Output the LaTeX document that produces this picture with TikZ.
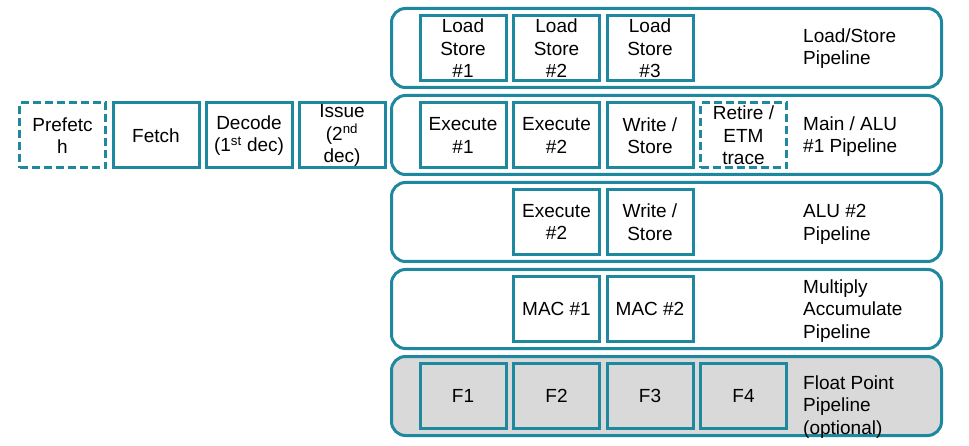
\documentclass[tikz,border=0pt]{standalone}
\usepackage{fontspec}
\setmainfont{Liberation Sans}
\definecolor{armteal}{RGB}{30,136,158}
\definecolor{fpgray}{RGB}{217,217,217}
\tikzset{
  stagebox/.style={draw=armteal, line width=3pt, minimum width=86pt, minimum height=65pt, inner sep=0pt, align=center},
  dashbox/.style={stagebox, dash pattern=on 8pt off 4pt},
  pipebox/.style={draw=armteal, line width=3pt, rounded corners=14pt, minimum width=550pt, minimum height=79pt, inner sep=0pt},
  pipelabel/.style={anchor=west, align=left, inner sep=0pt},
}
\begin{document}
\begin{tikzpicture}[x=1pt,y=-1pt,font=\fontsize{19}{22.5}\selectfont]
      \useasboundingbox (0,0) rectangle (969,446);
      % pipelines
      \node[pipebox] (lspipe) at (666.5,48) {};
      \node[pipebox] (mainpipe) at (666.5,135) {};
      \node[pipebox] (alupipe) at (666.5,222) {};
      \node[pipebox] (macpipe) at (666.5,309) {};
      \node[pipebox,fill=fpgray] (fppipe) at (666.5,396) {};
      % front end
      \node[dashbox] (prefetch) at (62.5,135.5) {Prefetc\\h};
      \node[stagebox] (fetch) at (156,135.5) {Fetch};
      \node[stagebox] (decode) at (249,135.5) {Decode\\(1\textsuperscript{st} dec)};
      \node[stagebox] (issue) at (342,135.5) {Issue\\(2\textsuperscript{nd}\\dec)};
      % load/store
      \node[stagebox] (ls1) at (463,48.5) {Load\\Store\\\#1};
      \node[stagebox] (ls2) at (556.5,48.5) {Load\\Store\\\#2};
      \node[stagebox] (ls3) at (650,48.5) {Load\\Store\\\#3};
      \node[pipelabel] (lslabel) at (803,48.5) {Load/Store\\Pipeline};
      % main / alu #1
      \node[stagebox] (ex1) at (463,135.5) {Execute\\\#1};
      \node[stagebox] (ex2) at (556.5,135.5) {Execute\\\#2};
      \node[stagebox] (wr) at (650,135.5) {Write /\\Store};
      \node[dashbox] (retire) at (743.5,135.5) {Retire /\\ETM\\trace};
      \node[pipelabel] (mainlabel) at (803,136.5) {Main / ALU\\\#1 Pipeline};
      % alu #2
      \node[stagebox] (aluex) at (556.5,222) {Execute\\\#2};
      \node[stagebox] (aluwr) at (650,222) {Write /\\Store};
      \node[pipelabel] (alulabel) at (803,224.5) {ALU \#2\\Pipeline};
      % mac
      \node[stagebox] (mac1) at (556.5,309) {MAC \#1};
      \node[stagebox] (mac2) at (650,309) {MAC \#2};
      \node[pipelabel] (maclabel) at (803,311) {Multiply\\Accumulate\\Pipeline};
      % float point
      \node[stagebox] (f1) at (463,396) {F1};
      \node[stagebox] (f2) at (556.5,396) {F2};
      \node[stagebox] (f3) at (650,396) {F3};
      \node[stagebox] (f4) at (743.5,396) {F4};
      \node[pipelabel] (fplabel) at (803,407) {Float Point\\Pipeline\\(optional)};
\end{tikzpicture}
\end{document}
